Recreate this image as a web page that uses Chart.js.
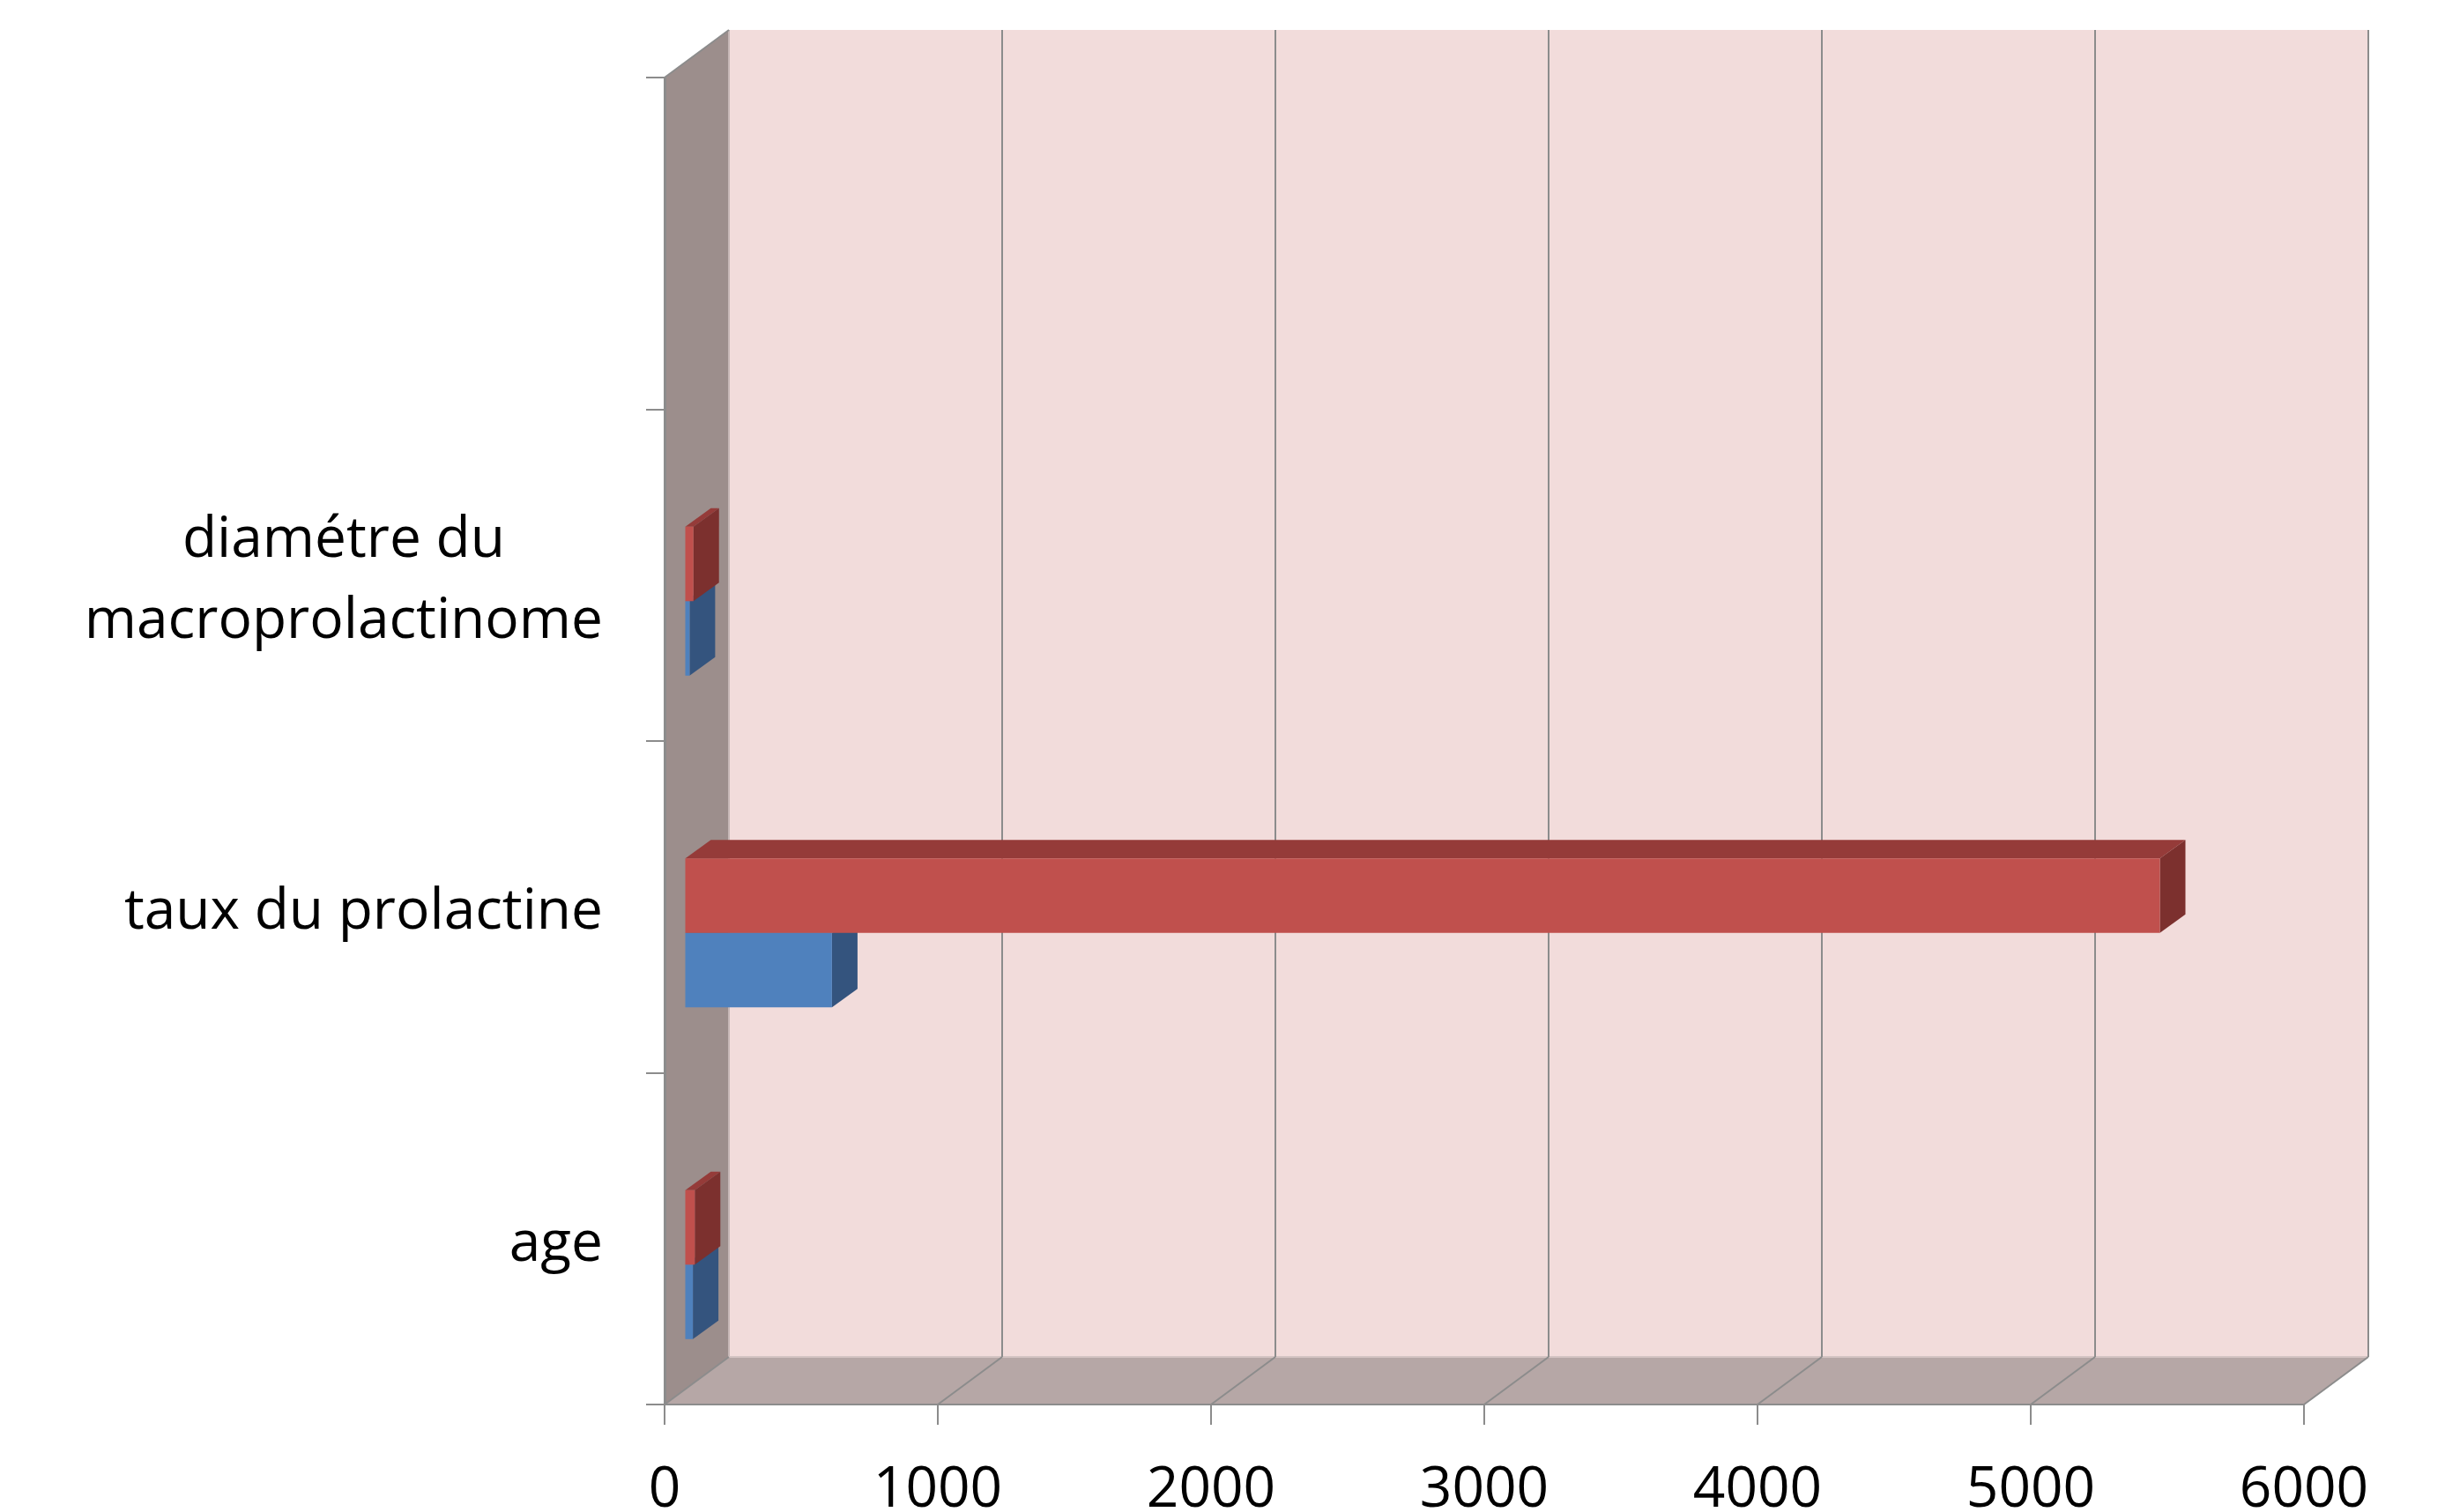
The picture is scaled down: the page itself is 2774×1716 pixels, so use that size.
<!DOCTYPE html>
<html lang="fr">
<head>
<meta charset="utf-8">
<title>Prolactinome</title>
<script src="https://cdn.jsdelivr.net/npm/chart.js@4/dist/chart.umd.min.js"></script>
<style>
  html, body { margin: 0; background: #fff; }
  #wrap { width: 2774px; height: 1716px; }
</style>
</head>
<body>
<div id="wrap"><canvas id="chart"></canvas></div>
<script>
// Categories top to bottom (the first slot is empty in the original sheet).
const CATEGORIES = ['', ['diamétre du', 'macroprolactinome'], 'taux du prolactine', 'age'];
const SERIE_ROUGE = [null, 33, 5400, 38];
const SERIE_BLEUE = [null, 19, 540, 31];
const X_TICKS = [0, 1000, 2000, 3000, 4000, 5000, 6000];

// Excel-like 3D look: wall depth, where the bars sit in it, and their thickness.
const DEPTH = { dx: 73, dy: -54 };
const BAR_FRONT = { dx: 22.5, dy: 29.5 };
const BAR_DEPTH = { dx: 29, dy: -21 };
const FONT = '"Open Sans", "Noto Sans", sans-serif';
const EDGE = '#8c8c8c';

function poly(ctx, pts, fill) {
  ctx.beginPath();
  pts.forEach(([x, y], i) => i ? ctx.lineTo(x, y) : ctx.moveTo(x, y));
  ctx.closePath();
  ctx.fillStyle = fill;
  ctx.fill();
}
function line(ctx, x1, y1, x2, y2, color, lw) {
  ctx.beginPath();
  ctx.moveTo(x1, y1);
  ctx.lineTo(x2, y2);
  ctx.strokeStyle = color;
  ctx.lineWidth = lw;
  ctx.stroke();
}

const walls3d = {
  id: 'walls3d',
  beforeDraw(chart) {
    const { ctx, chartArea: a, scales: { x } } = chart;
    const { dx, dy } = DEPTH;
    ctx.save();
    poly(ctx, [[a.left + dx, a.top + dy], [a.right + dx, a.top + dy], [a.right + dx, a.bottom + dy], [a.left + dx, a.bottom + dy]], '#f2dcdb');
    poly(ctx, [[a.left, a.top], [a.left + dx, a.top + dy], [a.left + dx, a.bottom + dy], [a.left, a.bottom]], '#9c8e8c');
    poly(ctx, [[a.left, a.bottom], [a.left + dx, a.bottom + dy], [a.right + dx, a.bottom + dy], [a.right, a.bottom]], '#b6a7a6');
    line(ctx, a.left + dx, a.top + dy, a.left + dx, a.bottom + dy, '#c6b8b7', 2);
    line(ctx, a.left + dx, a.bottom + dy, a.right + dx, a.bottom + dy, '#d4c4c3', 2);
    x.ticks.forEach(t => {
      const px = x.getPixelForValue(t.value);
      if (t.value > 0) line(ctx, px + dx, a.top + dy, px + dx, a.bottom + dy, EDGE, 2);
      line(ctx, px, a.bottom, px + dx, a.bottom + dy, EDGE, 2);
    });
    line(ctx, a.left, a.top, a.left + dx, a.top + dy, EDGE, 2);
    ctx.restore();
  },
  // top + side faces first, then let Chart.js paint the front face shifted into depth
  beforeDatasetDraw(chart, args) {
    const { ctx } = chart;
    const ds = chart.data.datasets[args.index];
    const { dx, dy } = BAR_DEPTH;
    args.meta.data.forEach((bar, i) => {
      if (ds.data[i] == null) return;
      const { x, y, base, height } = bar.getProps(['x', 'y', 'base', 'height'], true);
      const l = base + BAR_FRONT.dx, r = x + BAR_FRONT.dx;
      const t = y - height / 2 + BAR_FRONT.dy, b = y + height / 2 + BAR_FRONT.dy;
      poly(ctx, [[l, t], [r, t], [r + dx, t + dy], [l + dx, t + dy]], ds.faceTop);
      poly(ctx, [[r, t], [r, b], [r + dx, b + dy], [r + dx, t + dy]], ds.faceSide);
    });
    ctx.save();
    ctx.translate(BAR_FRONT.dx, BAR_FRONT.dy);
  },
  afterDatasetDraw(chart) {
    chart.ctx.restore();
  },
};

// category labels: block right-aligned, lines of a block centred (as in Excel)
const catLabels = {
  id: 'catLabels',
  afterDraw(chart) {
    const { ctx, chartArea: a, scales: { y } } = chart;
    const right = a.left - 21 - 49;
    ctx.save();
    ctx.font = `64px ${FONT}`;
    ctx.fillStyle = '#000';
    ctx.textAlign = 'center';
    ctx.textBaseline = 'middle';
    CATEGORIES.forEach((lab, i) => {
      const lines = [].concat(lab);
      const w = Math.max(...lines.map(s => ctx.measureText(s).width));
      const cy = y.getPixelForTick(i) + 7;
      lines.forEach((s, k) => ctx.fillText(s, right - w / 2, cy + (k - (lines.length - 1) / 2) * 92));
    });
    ctx.restore();
  },
};

function draw() {
  new Chart(document.getElementById('chart').getContext('2d'), {
    type: 'bar',
    data: {
      labels: CATEGORIES,
      datasets: [
        { label: 'Série 2', data: SERIE_ROUGE, backgroundColor: '#c0504d', faceTop: '#953b39', faceSide: '#7c302e', clip: false },
        { label: 'Série 1', data: SERIE_BLEUE, backgroundColor: '#4f81bd', faceTop: '#3d6594', faceSide: '#34547e', clip: false },
      ],
    },
    options: {
      indexAxis: 'y',
      responsive: true, maintainAspectRatio: false, animation: false,
      layout: { padding: { top: 88, right: 160, left: 0, bottom: 0 } },
      datasets: { bar: { categoryPercentage: 0.449, barPercentage: 1, borderWidth: 0 } },
      plugins: { legend: { display: false }, tooltip: { enabled: false } },
      scales: {
        x: {
          min: 0, max: 6000,
          afterBuildTicks: s => { s.ticks = X_TICKS.map(v => ({ value: v })); },
          afterFit: s => { s.height = 122; },
          grid: { drawOnChartArea: false, tickLength: 23, color: EDGE, lineWidth: 2 },
          border: { color: EDGE, width: 2 },
          ticks: { color: '#000', font: { family: FONT, size: 64 }, padding: 36, maxRotation: 0, callback: v => String(v) },
        },
        y: {
          offset: true,
          afterFit: s => { s.width = 754; },
          grid: { offset: true, drawOnChartArea: false, tickLength: 21, color: EDGE, lineWidth: 2 },
          border: { color: EDGE, width: 3 },
          ticks: { display: false },
        },
      },
    },
    plugins: [walls3d, catLabels],
  });
}

document.fonts.load(`64px ${FONT}`).then(draw, draw);
</script>
</body>
</html>
